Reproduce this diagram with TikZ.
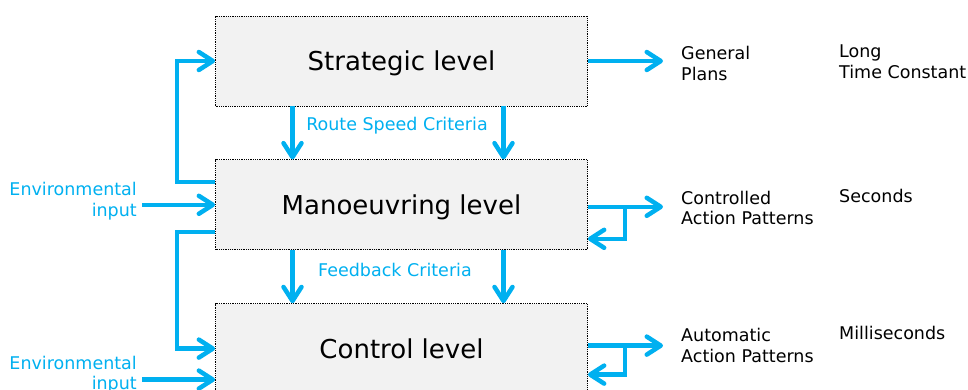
\documentclass[tikz,border=0pt]{standalone}
\usepackage{fontspec}
\setmainfont{DejaVu Sans}
\usepackage{xcolor}
\definecolor{colorFlow}{HTML}{00B0F0}
\definecolor{colorLevel}{HTML}{F2F2F2}
\usetikzlibrary{arrows.meta, positioning}
\tikzset{level/.style={draw=black, densely dotted, line width=0.8pt, fill=colorLevel, minimum width=372pt, minimum height=90pt, inner sep=0pt, font=\fontsize{26}{31}\selectfont, text height=19pt, text depth=0pt},
  flow/.style={colorFlow, line width=4.5pt, -{Straight Barb[length=14pt, width=18pt, round]}},
  criteria/.style={colorFlow, inner sep=0pt, font=\fontsize{17.5}{20.5}\selectfont},
  envinput/.style={criteria, align=right, anchor=north east},
  output/.style={black, inner sep=0pt, align=left, font=\fontsize{17.5}{20.5}\selectfont}}

\begin{document}
\begin{tikzpicture}[x=1pt, y=-1pt, node distance=53pt]
\useasboundingbox (0,0) rectangle (968,389);
\node[level] (strategic) at (401.5,61) {Strategic level};
\node[level, below=of strategic] (manoeuvring) {Manoeuvring level};
\node[level, below=of manoeuvring] (control) {Control level};
\node[criteria, anchor=base] (routespeed) at (397,130) {Route Speed Criteria};
\node[criteria, anchor=base] (feedback) at (395,276.5) {Feedback Criteria};
\draw[flow] ([xshift=-109pt]strategic.south) -- ([xshift=-109pt]manoeuvring.north);
\draw[flow] ([xshift=102pt]strategic.south) -- ([xshift=102pt]manoeuvring.north);
\draw[flow] ([xshift=-109pt]manoeuvring.south) -- ([xshift=-109pt]control.north);
\draw[flow] ([xshift=102pt]manoeuvring.south) -- ([xshift=102pt]control.north);
\draw[flow] ([yshift=23pt]manoeuvring.west) -- ++(-38,0) |- (strategic.west);
\draw[flow] ([yshift=-27pt]manoeuvring.west) -- ++(-38,0) |- (control.west);
\node[envinput] (envmanoeuvring) at (137,182.3) {Environmental\\input};
\node[envinput] (envcontrol) at (137,355.7) {Environmental\\input};
\draw[flow, shorten <=5pt] (envmanoeuvring.east |- manoeuvring.west) -- (manoeuvring.west);
\draw[flow, shorten <=5pt] ([yshift=-31pt]control.west -| envcontrol.east) -- ([yshift=-31pt]control.west);
\node[output, anchor=north west] (plans) at (681,46) {General\\Plans};
\node[output, anchor=north west] (controlled) at (681,190.5) {Controlled\\Action Patterns};
\node[output, anchor=north west] (automatic) at (681,328) {Automatic\\Action Patterns};
\node[output, anchor=north west] (longtime) at (839,45) {Long\\Time Constant};
\node[output, anchor=base west] (seconds) at (839,202) {Seconds};
\node[output, anchor=base west] (milliseconds) at (839,339.3) {Milliseconds};
\draw[flow, shorten >=18pt] (strategic.east) -- (strategic.east -| plans.west);
\draw[flow, shorten >=18pt] ([yshift=-2pt]manoeuvring.east) -- ([yshift=-2pt]manoeuvring.east -| controlled.west);
\draw[flow] ([xshift=37pt, yshift=-2pt]manoeuvring.east) |- ([yshift=-34pt]manoeuvring.east);
\draw[flow, shorten >=18pt] ([yshift=3pt]control.east) -- ([yshift=3pt]control.east -| automatic.west);
\draw[flow] ([xshift=37pt, yshift=3pt]control.east) |- ([yshift=-26pt]control.east);
\end{tikzpicture}
\end{document}
